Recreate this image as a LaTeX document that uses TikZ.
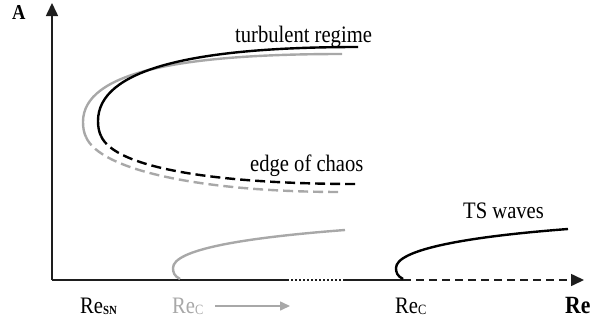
\documentclass[tikz,border=0pt]{standalone}
\usepackage{fontspec}
\setmainfont{Liberation Serif}
\usetikzlibrary{arrows.meta}
\definecolor{lgray}{RGB}{168,168,168}
\definecolor{axisblack}{RGB}{30,30,30}
\newcommand{\txt}[1]{\scalebox{1.03}[1.18]{#1}}
\begin{document}
\begin{tikzpicture}[x=1pt,y=-1pt,
  axisline/.style={line width=1.6pt,axisblack},
  blk/.style={line width=2.4pt,black},
  gry/.style={line width=2.4pt,lgray},
  dsh/.style={dash pattern=on 10pt off 5pt},
  lbl/.style={font=\fontsize{20}{24}\selectfont, inner sep=0pt, anchor=base west},
  bigtip/.style={-{Triangle[length=13pt,width=12pt]}}]
\useasboundingbox (0,0) rectangle (606,322);
% axes
\coordinate (O) at (52,280);
\coordinate (ytip) at (52,3);
\coordinate (d1) at (287,280);
\coordinate (d2) at (345,280);
\coordinate (d3) at (403,280);
\coordinate (xtip) at (584,280);
\draw[axisline,bigtip] (O) -- (ytip);
\draw[axisline] (O) -- (d1);
\draw[axisline,line width=1.4pt,dash pattern=on 1.6pt off 2.4pt] (d1) -- (d2);
\draw[axisline] (d2) -- (d3);
\draw[axisline,dash pattern=on 8pt off 5pt,bigtip] (d3) -- (xtip);
% upper gray branch
\draw[gry] (342,54) .. controls (180,54) and (83,72) .. (83,122)
  .. controls (83,128) and (84,133) .. (86,137);
\draw[gry,dsh] (86,137) .. controls (100,170) and (200,192) .. (342,192);
% upper black branch
\draw[blk] (358,47) .. controls (190,47) and (98,70) .. (98,121)
  .. controls (98,127) and (99,132) .. (101,136);
\draw[blk,dsh] (101,136) .. controls (115,168) and (215,184) .. (358,184);
% lower gray branch
\draw[gry] (180,279) .. controls (174,276) and (173,272) .. (173,268)
  .. controls (173,250) and (240,238) .. (345,230);
% TS waves branch
\draw[blk] (403,279) .. controls (397,276) and (396,272) .. (396,268)
  .. controls (396,250) and (463,237) .. (568,229);
% labels
\node[lbl,font=\fontsize{18}{20}\selectfont\bfseries] (A) at (12,19) {\txt{A}};
\node[lbl] (turb) at (235,42) {\txt{turbulent regime}};
\node[lbl] (edge) at (250,171) {\txt{edge of chaos}};
\node[lbl] (ts) at (463,218) {\txt{TS waves}};
\node[lbl] (resn) at (80,313) {\txt{Re\raisebox{-1pt}{\fontsize{10.5}{10}\selectfont\bfseries SN}}};
\node[lbl,text=lgray] (recg) at (172,313) {\txt{Re\raisebox{-1pt}{\fontsize{12}{12}\selectfont C}}};
\node[lbl] (rec) at (395,313) {\txt{Re\raisebox{-1pt}{\fontsize{12}{12}\selectfont C}}};
\node[lbl,font=\fontsize{21}{24}\selectfont\bfseries] (Re) at (565,313) {\txt{Re}};
\coordinate (ga1) at (215,306);
\coordinate (ga2) at (290,306);
\draw[line width=1.6pt,lgray,-{Triangle[length=10pt,width=9pt]}] (ga1) -- (ga2);
\end{tikzpicture}
\end{document}
